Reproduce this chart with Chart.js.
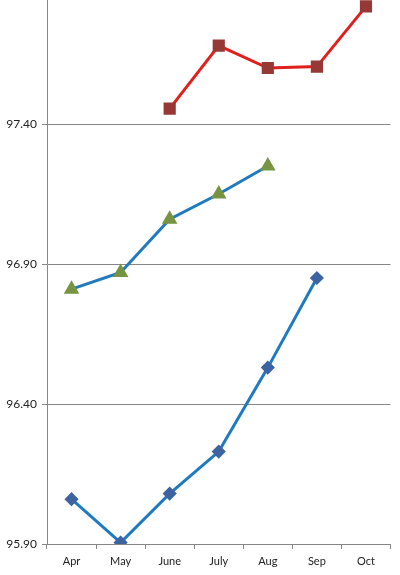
<!DOCTYPE html>
<html>
<head>
<meta charset="utf-8">
<script src="https://cdn.jsdelivr.net/npm/chart.js@4/dist/chart.umd.min.js"></script>
<style>
  html, body { margin: 0; padding: 0; background: #fff; overflow: hidden; }
  #wrap { position: absolute; left: 0; top: -30px; width: 400px; height: 605px; }
</style>
</head>
<body>
<div id="wrap"><canvas id="myChart"></canvas></div>
<script>
const ctx = document.getElementById('myChart');

// months along the bottom
var months = ['Apr', 'May', 'June', 'July', 'Aug', 'Sep', 'Oct'];

// three yearly series
var lowSeries = [96.06, 95.905, 96.08, 96.23, 96.53, 96.85, null];
var midSeries = [96.81, 96.87, 97.06, 97.15, 97.25, null, null];
var highSeries = [null, null, 97.455, 97.68, 97.60, 97.605, 97.82];

var yMin = 95.90;
var yMax = 97.90;
var yStep = 0.5;

var data = {
  labels: months,
  datasets: [{
    label: 'Low',
    data: lowSeries,
    borderColor: '#1F7AC0',
    borderWidth: 3,
    pointStyle: 'rectRot',
    pointRadius: 5,
    pointBackgroundColor: '#3D63A0',
    pointBorderColor: '#3D63A0'
  }, {
    label: 'Mid',
    data: midSeries,
    borderColor: '#1F7AC0',
    borderWidth: 3,
    pointStyle: 'triangle',
    pointRadius: 6,
    pointBackgroundColor: '#779443',
    pointBorderColor: '#779443'
  }, {
    label: 'High',
    data: highSeries,
    borderColor: '#E0201C',
    borderWidth: 3,
    pointStyle: 'rect',
    pointRadius: 6.5,
    pointBackgroundColor: '#963835',
    pointBorderColor: '#963835'
  }]
};

var config = {
  type: 'line',
  data: data,
  options: {
    responsive: true,
    maintainAspectRatio: false,
    animation: false,
    layout: {
      padding: { top: 14, right: 2, left: 0, bottom: 0 }
    },
    plugins: {
      legend: { display: false },
      tooltip: { enabled: false }
    },
    scales: {
      x: {
        offset: true,
        grid: {
          offset: true,
          drawOnChartArea: false,
          color: '#868686',
          tickLength: 5
        },
        border: { color: '#868686', width: 1 },
        ticks: {
          color: '#222',
          font: { family: 'Lato', size: 11 },
          padding: 6,
          maxRotation: 0
        },
        afterFit: function(scale) { scale.height = 31; }
      },
      y: {
        min: yMin,
        max: yMax,
        grid: {
          color: '#868686',
          tickLength: 5
        },
        border: { color: '#868686', width: 1 },
        ticks: {
          stepSize: yStep,
          color: '#222',
          font: { family: 'Lato', size: 12 },
          padding: 5,
          callback: function(v) { return v.toFixed(2); }
        },
        afterFit: function(scale) { scale.width = 47; }
      }
    }
  }
};

var chart = new Chart(ctx, config);
</script>
</body>
</html>
